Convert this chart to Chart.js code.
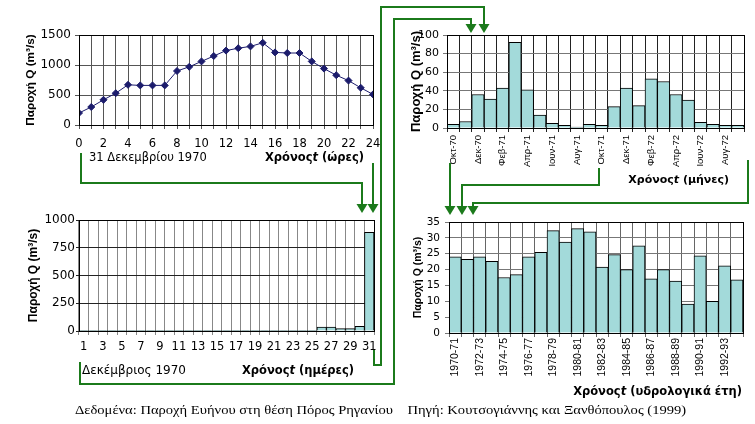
<!DOCTYPE html>
<html>
<head>
<meta charset="utf-8">
<title>Παροχή Ευήνου</title>
<script src="https://cdn.jsdelivr.net/npm/chart.js@4.4.0/dist/chart.umd.min.js"></script>
<style>
  body { margin: 0; background: #fff; }
  #page { position: relative; width: 755px; height: 424px; overflow: hidden; background: #fff; }
  #page canvas, #page svg { position: absolute; left: 0; top: 0; }
  .lbl { position: absolute; white-space: nowrap; color: #000; line-height: 14px; font-family: "DejaVu Sans", sans-serif; }
  .xt { font-weight: bold; font-size: 11.5px; }
  .cap { font-family: "Liberation Serif", serif; font-size: 13px; white-space: pre;
         transform: scaleX(1.12); transform-origin: left center; }
</style>
</head>
<body>
<div id="page">
  <canvas id="hourChart" width="755" height="424"></canvas>
  <canvas id="dayChart" width="755" height="424"></canvas>
  <canvas id="monthChart" width="755" height="424"></canvas>
  <canvas id="yearChart" width="755" height="424"></canvas>

  <div class="lbl" style="left:89px; top:150px; font-size:11.5px;">31 Δεκεμβρίου 1970</div>
  <div class="lbl xt" style="right:391px; top:150px;">Χρόνος<i>t</i> (ώρες)</div>
  <div class="lbl" style="left:82px; top:363px; font-size:12px;">Δεκέμβριος 1970</div>
  <div class="lbl xt" style="left:242px; top:363px;">Χρόνος<i>t</i> (ημέρες)</div>
  <div class="lbl xt" style="right:26px; top:173px; font-size:11px;">Χρόνος<i>t</i> (μήνες)</div>
  <div class="lbl xt" style="right:13px; top:384px;">Χρόνος<i>t</i> (υδρολογικά έτη)</div>
  <div class="lbl cap" style="left:75px; top:403px;">Δεδομένα: Παροχή Ευήνου στη θέση Πόρος Ρηγανίου    Πηγή: Κουτσογιάννης και Ξανθόπουλος (1999)</div>

  <!-- green links between the panels -->
  <svg width="755" height="424">
    <g fill="none" stroke="#1b7a1b" stroke-width="2">
      <polyline points="81,153 81,183 362,183 362,205"/>
      <polyline points="373,163 373,205"/>
      <polyline points="374,350 374,365 381,365 381,7 484,7 484,26"/>
      <polyline points="80,362 80,384 394,384 394,19 471,19 471,26"/>
      <polyline points="450,163 450,207"/>
      <polyline points="599,168 599,185 462,185 462,207"/>
      <polyline points="748,160 748,203 473,203 473,207"/>
    </g>
    <g fill="#1b7a1b">
      <polygon points="356.5,204 367.5,204 362,213"/>
      <polygon points="367.5,204 378.5,204 373,213"/>
      <polygon points="465.5,24 476.5,24 471,33"/>
      <polygon points="478.5,24 489.5,24 484,33"/>
      <polygon points="444.5,206 455.5,206 450,215"/>
      <polygon points="456.5,206 467.5,206 462,215"/>
      <polygon points="467.5,206 478.5,206 473,215"/>
    </g>
  </svg>
</div>

<script>
// hourly discharge, 31 Dec 1970
const hours = [0, 1, 2, 3, 4, 5, 6, 7, 8, 9, 10, 11, 12, 13, 14, 15, 16, 17, 18, 19, 20, 21, 22, 23, 24];
const hourlyFlow = [200, 300, 420, 530, 670, 660, 660, 660, 900, 970, 1060, 1150, 1240, 1280, 1310, 1370,
                    1210, 1200, 1200, 1060, 940, 830, 740, 620, 510];
const hourLabels = [0, 2, 4, 6, 8, 10, 12, 14, 16, 18, 20, 22, 24];

// daily discharge, December 1970
const days = ['1', '2', '3', '4', '5', '6', '7', '8', '9', '10', '11', '12', '13', '14', '15', '16',
              '17', '18', '19', '20', '21', '22', '23', '24', '25', '26', '27', '28', '29', '30', '31'];
const dailyFlow = [3, 3, 3, 3, 3, 3, 3, 3, 3, 3, 3, 3, 3, 3, 3, 3,
                   3, 3, 3, 3, 3, 3, 3, 3, 3, 36, 36, 21, 21, 42, 890];
const dayLabels = ['1', '3', '5', '7', '9', '11', '13', '15', '17', '19', '21', '23', '25', '27', '29', '31'];

// monthly discharge, Oct 1970 - Sep 1972
const months = ['Οκτ-70', 'Νοε-70', 'Δεκ-70', 'Ιαν-71', 'Φεβ-71', 'Μαρ-71', 'Απρ-71', 'Μαϊ-71',
                'Ιουν-71', 'Ιουλ-71', 'Αυγ-71', 'Σεπ-71', 'Οκτ-71', 'Νοε-71', 'Δεκ-71', 'Ιαν-72',
                'Φεβ-72', 'Μαρ-72', 'Απρ-72', 'Μαϊ-72', 'Ιουν-72', 'Ιουλ-72', 'Αυγ-72', 'Σεπ-72'];
const monthlyFlow = [4, 7, 36, 31, 43, 92, 41, 14, 5, 3, 1, 4, 3, 23, 43, 24, 53, 50, 36, 30, 6, 4, 3, 3];
const monthLabels = ['Οκτ-70', 'Δεκ-70', 'Φεβ-71', 'Απρ-71', 'Ιουν-71', 'Αυγ-71',
                     'Οκτ-71', 'Δεκ-71', 'Φεβ-72', 'Απρ-72', 'Ιουν-72', 'Αυγ-72'];

// annual discharge per hydrological year
const hydroYears = ['1970-71', '1971-72', '1972-73', '1973-74', '1974-75', '1975-76', '1976-77', '1977-78',
                    '1978-79', '1979-80', '1980-81', '1981-82', '1982-83', '1983-84', '1984-85', '1985-86',
                    '1986-87', '1987-88', '1988-89', '1989-90', '1990-91', '1991-92', '1992-93', '1993-94'];
const annualFlow = [24.0, 23.2, 24.0, 22.6, 17.5, 18.4, 24.0, 25.4, 32.3, 28.7, 32.9, 31.9,
                    20.8, 24.7, 20.0, 27.5, 17.1, 20.0, 16.4, 9.1, 24.3, 10.0, 21.2, 16.8];
const yearLabels = ['1970-71', '1972-73', '1974-75', '1976-77', '1978-79', '1980-81',
                    '1982-83', '1984-85', '1986-87', '1988-89', '1990-91', '1992-93'];

const W = 755, H = 424;
const NAVY = '#1c1c6c';
const BAR_FILL = '#a3dada';
const TICK_FONT = 'DejaVu Sans';

// plot boxes of the four panels, in page pixels
const boxes = {
  hour:  { l: 79,  t: 35,  r: 373, b: 125 },
  day:   { l: 79,  t: 220, r: 374, b: 331 },
  month: { l: 447, t: 35,  r: 744, b: 128 },
  year:  { l: 449, t: 222, r: 743, b: 333 }
};

// black frame round the plot area
const framePlugin = {
  id: 'plotFrame',
  afterDatasetsDraw(chart) {
    const a = chart.chartArea;
    const ctx = chart.ctx;
    ctx.save();
    ctx.strokeStyle = '#000';
    ctx.lineWidth = 1;
    ctx.strokeRect(Math.round(a.left) + 0.5, Math.round(a.top) + 0.5,
                   Math.round(a.right - a.left), Math.round(a.bottom - a.top));
    ctx.restore();
  }
};

function buildOptions(box, yTitle, xScale, yScale) {
  // y title is drawn at scale.left + lineHeight/2 (padding 0)
  const padLeft = yTitle.x - yTitle.size * 0.6;
  const yWidth = box.l - padLeft;
  const xHeight = 60;
  return {
    responsive: false,
    animation: false,
    layout: { padding: { left: padLeft, top: box.t, right: W - box.r, bottom: H - box.b - xHeight } },
    plugins: { legend: { display: false }, tooltip: { enabled: false } },
    scales: {
      x: Object.assign({
        afterFit: s => { s.height = xHeight; },
        border: { color: '#000' }
      }, xScale),
      y: Object.assign({
        afterFit: s => { s.width = yWidth; },
        border: { color: '#000' },
        title: {
          display: true,
          text: 'Παροχή Q (m³/s)',
          padding: 0,
          color: '#000',
          font: { family: 'Liberation Sans', weight: 'bold', size: yTitle.size }
        }
      }, yScale)
    }
  };
}

function labelFilter(list) {
  return function(value) {
    const label = this.getLabelForValue(value);
    return list.includes(label) ? label : '';
  };
}

const plainNumber = v => String(v);

function barDataset(values) {
  return {
    data: values,
    backgroundColor: BAR_FILL,
    borderColor: '#000',
    borderWidth: 1,
    barPercentage: 1,
    categoryPercentage: 1
  };
}

// --- hourly line chart ---
new Chart(document.getElementById('hourChart'), {
  type: 'line',
  data: {
    datasets: [{
      data: hours.map((h, i) => ({ x: h, y: hourlyFlow[i] })),
      borderColor: NAVY,
      borderWidth: 1,
      pointStyle: 'rectRot',
      pointRadius: 3.5,
      pointBackgroundColor: NAVY,
      pointBorderColor: NAVY,
      tension: 0
    }]
  },
  options: buildOptions(boxes.hour, { size: 11.75, x: 31 }, {
    type: 'linear', min: 0, max: 24,
    grid: { color: '#555', tickLength: 4 },
    ticks: {
      stepSize: 1, autoSkip: false, maxRotation: 0, padding: 8, color: '#000',
      font: { family: TICK_FONT, size: 11.5 },
      callback: v => hourLabels.includes(v) ? String(v) : ''
    }
  }, {
    min: 0, max: 1500,
    grid: { color: '#555', tickLength: 4 },
    ticks: { stepSize: 250, padding: 4, color: '#000', font: { family: TICK_FONT, size: 12 }, callback: plainNumber }
  }),
  plugins: [framePlugin]
});

// --- daily bar chart ---
new Chart(document.getElementById('dayChart'), {
  type: 'bar',
  data: { labels: days, datasets: [barDataset(dailyFlow)] },
  options: buildOptions(boxes.day, { size: 12, x: 34 }, {
    grid: { color: '#888', tickLength: 4 },
    ticks: {
      autoSkip: false, maxRotation: 0, padding: 5, color: '#000',
      font: { family: TICK_FONT, size: 11.5 },
      callback: labelFilter(dayLabels)
    }
  }, {
    min: 0, max: 1000,
    grid: { color: '#222', tickLength: 3 },
    ticks: { stepSize: 250, padding: 1, color: '#000', font: { family: TICK_FONT, size: 12 }, callback: plainNumber }
  }),
  plugins: [framePlugin]
});

// --- monthly bar chart ---
new Chart(document.getElementById('monthChart'), {
  type: 'bar',
  data: { labels: months, datasets: [barDataset(monthlyFlow)] },
  options: buildOptions(boxes.month, { size: 13, x: 416 }, {
    grid: { color: '#222', tickLength: 4 },
    ticks: {
      autoSkip: false, minRotation: 90, maxRotation: 90, padding: 3, color: '#000',
      font: { family: 'Liberation Sans', size: 9.5 },
      callback: labelFilter(monthLabels)
    }
  }, {
    min: 0, max: 100,
    grid: { color: '#777', tickLength: 4 },
    ticks: { stepSize: 20, padding: 4, color: '#000', font: { family: TICK_FONT, size: 11 }, callback: plainNumber }
  }),
  plugins: [framePlugin]
});

// --- annual bar chart ---
new Chart(document.getElementById('yearChart'), {
  type: 'bar',
  data: { labels: hydroYears, datasets: [barDataset(annualFlow)] },
  options: buildOptions(boxes.year, { size: 10.5, x: 418 }, {
    grid: { color: '#666', tickLength: 4 },
    ticks: {
      autoSkip: false, minRotation: 90, maxRotation: 90, padding: 1, color: '#000',
      font: { family: 'Liberation Sans', size: 10.5 },
      callback: labelFilter(yearLabels)
    }
  }, {
    min: 0, max: 35,
    grid: { color: '#777', tickLength: 4 },
    ticks: { stepSize: 5, padding: 5, color: '#000', font: { family: TICK_FONT, size: 10.5 }, callback: plainNumber }
  }),
  plugins: [framePlugin]
});
</script>
</body>
</html>
